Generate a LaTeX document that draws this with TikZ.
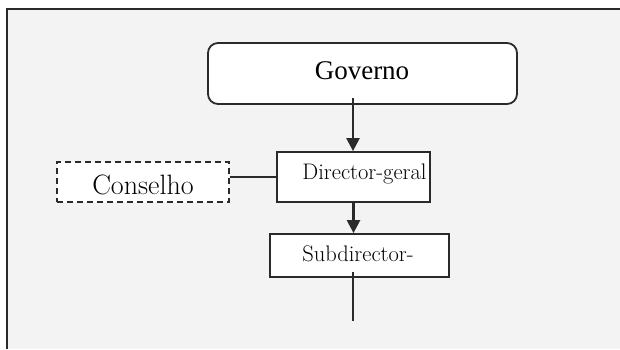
\documentclass[tikz,border=0pt]{standalone}
\usepackage{fontspec}
\newfontfamily\timesf{Liberation Serif}
\usetikzlibrary{arrows.meta}
\definecolor{bgc}{HTML}{F2F3F2}
\definecolor{ln}{HTML}{2A2A2A}
\tikzset{
  box/.style={draw=ln, line width=1.8pt, fill=white, inner sep=0pt, anchor=center},
  conn/.style={draw=ln, line width=2.4pt},
  arr/.style={conn, -{Triangle[length=13pt,width=13pt]}},
  thin/.style={draw=ln, line width=1.6pt}
}
\begin{document}
\begin{tikzpicture}[x=1pt,y=-1pt]
\useasboundingbox (0,0) rectangle (620,349);
\fill[white] (0,0) rectangle (620,349);
\fill[bgc] (7,9) rectangle (620,349);
\draw[ln, line width=1.8pt] (7,349) -- (7,9) -- (620,9);
\node[box, rounded corners=10pt, minimum width=309pt, minimum height=61pt] (gov) at (362.5,73.5) {};
\node[font=\timesf\fontsize{27}{31}\selectfont] (govt) at (362,71) {Governo};
\node[box, minimum width=153pt, minimum height=50pt] (dg) at (353.5,177) {};
\node[font=\fontsize{22.5}{26}\selectfont] (dgt) at (364.5,174) {Director-geral};
\node[box, dashed, dash pattern=on 6pt off 4pt, minimum width=172pt, minimum height=40pt] (con) at (143,182) {};
\node[font=\fontsize{28}{32}\selectfont] (cont) at (143,185) {Conselho};
\node[box, minimum width=179pt, minimum height=43pt] (sub) at (359.5,255.5) {};
\node[font=\fontsize{22.5}{26}\selectfont] (subt) at (358,254) {Subdirector-};
\coordinate (g1) at (353,98);
\coordinate (s1) at (353,272);
\coordinate (s2) at (353,321);
\draw[arr] (g1) -- (g1 |- dg.north);
\draw[thin] (dg.west) -- (dg.west -| con.east);
\draw[arr] (dg.south) -- (dg.south |- sub.north);
\draw[thin] (s1) -- (s2);
\end{tikzpicture}
\end{document}
